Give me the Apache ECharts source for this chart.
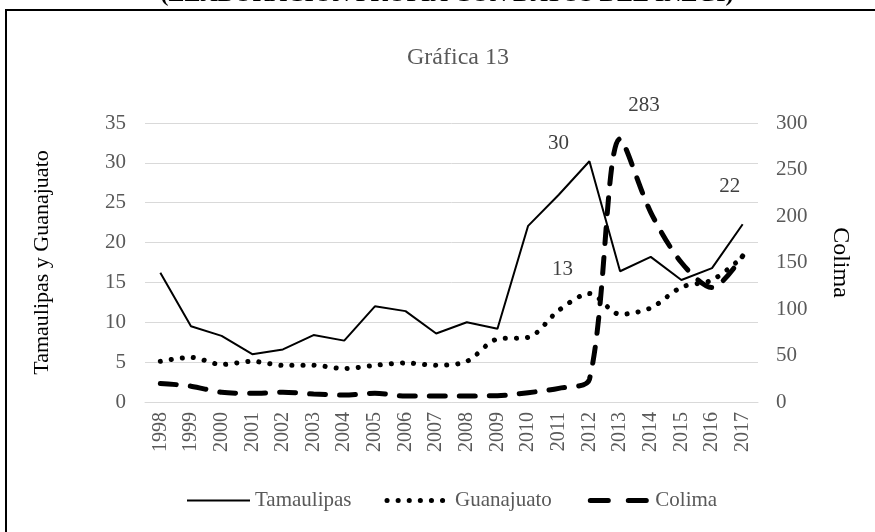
<!DOCTYPE html>
<html>
<head>
<meta charset="utf-8">
<script src="https://cdn.jsdelivr.net/npm/echarts@6/dist/echarts.min.js"></script>
<style>
  html, body { margin: 0; padding: 0; background: #fff; }
  #chart { width: 875px; height: 532px; }
</style>
</head>
<body>
<div id="chart"></div>
<script>
// datos
var years = ['1998', '1999', '2000', '2001', '2002', '2003', '2004', '2005', '2006', '2007',
  '2008', '2009', '2010', '2011', '2012', '2013', '2014', '2015', '2016', '2017']
var tamaulipas = [16.2, 9.5, 8.3, 6.0, 6.6, 8.4, 7.7, 12.0, 11.4, 8.6,
  10.0, 9.2, 22.1, 26.0, 30.2, 16.4, 18.2, 15.3, 16.8, 22.3]
var guanajuato = [5.1, 5.6, 4.7, 5.1, 4.6, 4.6, 4.2, 4.6, 4.9, 4.6,
  5.1, 7.9, 8.1, 11.5, 13.6, 11.0, 11.8, 14.4, 15.3, 18.2]
var colima = [20, 17, 10.4, 9.3, 10.4, 8.6, 7.5, 9.3, 6.5, 6.5,
  6.5, 6.8, 10, 14.7, 24.4, 283, 204, 150, 123, 157]
var leftTicks = { min: 0, max: 35, interval: 5 }
var rightTicks = { min: 0, max: 300, interval: 50 }

var serif = 'Liberation Serif'
var gray = '#595959'

// estilos de línea (también para la leyenda)
var solidStyle = { color: '#000', width: 2 }
var dotStyle = { color: '#000', width: 5, type: [0.1, 11], cap: 'round' }
var dashStyle = { color: '#000', width: 5, type: [16, 14], cap: 'round' }

var myChart = echarts.init(document.getElementById('chart'))

var option = {
  animation: false,
  backgroundColor: '#fff',
  textStyle: { fontFamily: serif },
  graphic: [
    {
      type: 'rect',
      shape: { x: 6, y: 10, width: 900, height: 600 },
      style: { fill: 'none', stroke: '#000', lineWidth: 2 }
    },
    {
      type: 'text',
      x: 447,
      y: -5,
      style: {
        text: '(ELABORACIÓN PROPIA CON DATOS DEL INEGI)',
        fontFamily: serif,
        fontWeight: 'bold',
        fontSize: 24,
        fill: '#000',
        align: 'center',
        verticalAlign: 'middle'
      }
    }
  ],
  title: {
    text: 'Gráfica 13',
    left: 453,
    top: 41,
    textAlign: 'center',
    textStyle: { fontFamily: serif, fontSize: 24, fontWeight: 'normal', color: gray }
  },
  legend: {
    left: 181,
    top: 485,
    itemWidth: 63,
    itemHeight: 14,
    itemGap: 33,
    itemStyle: { opacity: 0, borderWidth: 0 },
    textStyle: { fontFamily: serif, fontSize: 21, color: gray },
    data: [
      { name: 'Tamaulipas', lineStyle: solidStyle },
      { name: 'Guanajuato', lineStyle: dotStyle },
      { name: 'Colima', lineStyle: { color: '#000', width: 5, type: [18, 20], cap: 'round', dashOffset: -3 } }
    ]
  },
  grid: { left: 145, right: 117, top: 123, bottom: 130 },
  xAxis: {
    type: 'category',
    data: years,
    axisLine: { show: true, lineStyle: { color: '#d9d9d9' } },
    axisTick: { show: false },
    axisLabel: { rotate: 90, margin: 10, fontFamily: serif, fontSize: 20, color: gray }
  },
  yAxis: [
    {
      type: 'value',
      min: leftTicks.min,
      max: leftTicks.max,
      interval: leftTicks.interval,
      name: 'Tamaulipas y Guanajuato',
      nameLocation: 'middle',
      nameRotate: 90,
      nameGap: 92,
      nameTextStyle: { fontFamily: serif, fontSize: 22, color: '#000' },
      axisLine: { show: false },
      axisTick: { show: false },
      axisLabel: { margin: 19, fontFamily: serif, fontSize: 21, color: gray },
      splitLine: { lineStyle: { color: '#d9d9d9', width: 1 } }
    },
    {
      type: 'value',
      min: rightTicks.min,
      max: rightTicks.max,
      interval: rightTicks.interval,
      name: 'Colima',
      nameLocation: 'middle',
      nameRotate: -90,
      nameGap: 70,
      nameTextStyle: { fontFamily: serif, fontSize: 24, color: '#000' },
      axisLine: { show: false },
      axisTick: { show: false },
      axisLabel: { margin: 18, fontFamily: serif, fontSize: 21, color: gray },
      splitLine: { show: false }
    }
  ],
  series: [
    {
      name: 'Tamaulipas',
      type: 'line',
      yAxisIndex: 0,
      data: tamaulipas,
      symbol: 'none',
      lineStyle: solidStyle,
      itemStyle: { color: '#000' },
      markPoint: {
        symbol: 'circle',
        symbolSize: 0,
        label: { show: true, position: 'top', fontFamily: serif, fontSize: 21, color: '#404040' },
        data: [
          { coord: [14, tamaulipas[14]], value: 30, label: { offset: [-31, -2] } },
          { coord: [19, tamaulipas[19]], value: 22, label: { offset: [-13, -22] } }
        ]
      },
      z: 3
    },
    {
      name: 'Guanajuato',
      type: 'line',
      yAxisIndex: 0,
      data: guanajuato,
      symbol: 'none',
      smooth: 0.3,
      lineStyle: dotStyle,
      itemStyle: { color: '#000' },
      markPoint: {
        symbol: 'circle',
        symbolSize: 0,
        label: { show: true, position: 'top', fontFamily: serif, fontSize: 21, color: '#404040' },
        data: [
          { coord: [14, guanajuato[14]], value: 13, label: { offset: [-27, -9] } }
        ]
      },
      z: 2
    },
    {
      name: 'Colima',
      type: 'line',
      yAxisIndex: 1,
      data: colima,
      symbol: 'none',
      smooth: 0.3,
      lineStyle: dashStyle,
      itemStyle: { color: '#000' },
      markPoint: {
        symbol: 'circle',
        symbolSize: 0,
        label: { show: true, position: 'top', fontFamily: serif, fontSize: 21, color: '#404040' },
        data: [
          { coord: [15, colima[15]], value: 283, label: { offset: [24, -18] } }
        ]
      },
      z: 1
    }
  ]
}

myChart.setOption(option)
</script>
</body>
</html>
